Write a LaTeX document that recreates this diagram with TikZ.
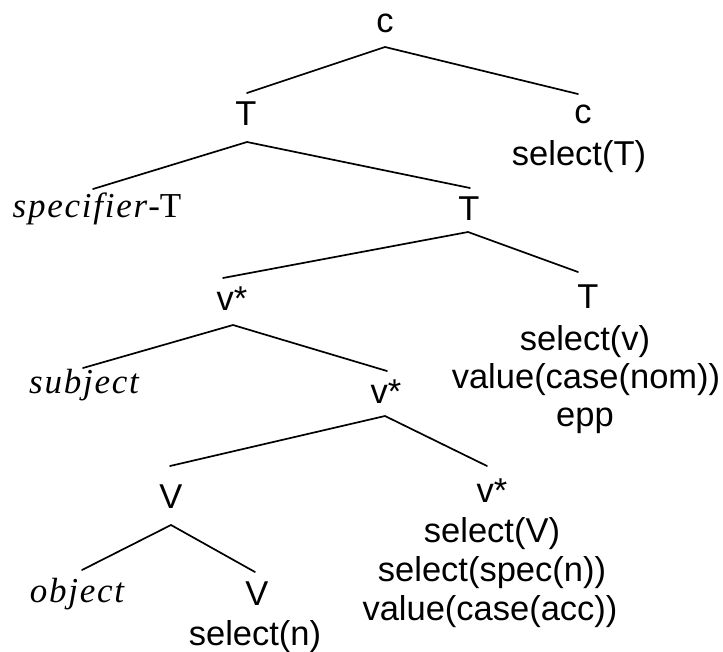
\documentclass[tikz,border=0pt]{standalone}
\usepackage{fontspec}
\newfontfamily\lblfont{Liberation Sans}
\newfontfamily\romfont[LetterSpace=5]{Liberation Serif}
\begin{document}
\begin{tikzpicture}[x=1pt,y=-1pt,
  lbl/.style={inner sep=0pt,anchor=base,font=\lblfont\fontsize{34.5}{38.5}\selectfont},
  term/.style={inner sep=0pt,anchor=base,font=\romfont\fontsize{35}{40}\selectfont},
  branch/.style={line width=1.7pt,line cap=round}]
\useasboundingbox (0,0) rectangle (723,651);

% category labels and feature lists
\node[lbl] (c0) at (385,32) {c};
\node[lbl] (T1) at (246,125) {T};
\node[lbl] (c2) at (583,123) {c};
\node[lbl] (c2a) at (579,165) {select(T)};
\node[term] (spec) at (97,217) {\itshape specifier-\upshape T};
\node[lbl] (T3) at (469,220) {T};
\node[lbl] (v1) at (232,310) {v*};
\node[lbl] (T4) at (588,308) {T};
\node[lbl] (T4a) at (585,350) {select(v)};
\node[lbl] (T4b) at (586,388) {value(case(nom))};
\node[lbl] (T4c) at (585,426) {epp};
\node[term] (subj) at (84,393) {\itshape subject};
\node[lbl] (v2) at (386,403) {v*};
\node[lbl] (V1) at (171,508) {V};
\node[lbl] (v3) at (492,502) {v*};
\node[lbl] (v3a) at (492,542) {select(V)};
\node[lbl] (v3b) at (492,581) {select(spec(n))};
\node[lbl] (v3c) at (490,620) {value(case(acc))};
\node[term] (obj) at (77,602) {\itshape object};
\node[lbl] (V2) at (257,605) {V};
\node[lbl] (V2a) at (255,645) {select(n)};

% branching points below each mother node
\coordinate (j0) at (385,47);
\coordinate (j1) at (247,142);
\coordinate (j3) at (468,232);
\coordinate (j4) at (233,325);
\coordinate (j5) at (385,416);
\coordinate (j6) at (171,525);

% tops of the daughters' branches
\coordinate (eT1) at (247,93);
\coordinate (ec2) at (578,94);
\coordinate (espec) at (93,189);
\coordinate (eT3) at (470,188);
\coordinate (ev1) at (223,278);
\coordinate (eT4) at (578,272);
\coordinate (esubj) at (83,368);
\coordinate (ev2) at (387,371);
\coordinate (eV1) at (170,466);
\coordinate (ev3) at (487,466);
\coordinate (eobj) at (82,570);
\coordinate (eV2) at (255,572);

\draw[branch] (eT1) -- (j0) -- (ec2);
\draw[branch] (espec) -- (j1) -- (eT3);
\draw[branch] (ev1) -- (j3) -- (eT4);
\draw[branch] (esubj) -- (j4) -- (ev2);
\draw[branch] (eV1) -- (j5) -- (ev3);
\draw[branch] (eobj) -- (j6) -- (eV2);
\end{tikzpicture}
\end{document}
